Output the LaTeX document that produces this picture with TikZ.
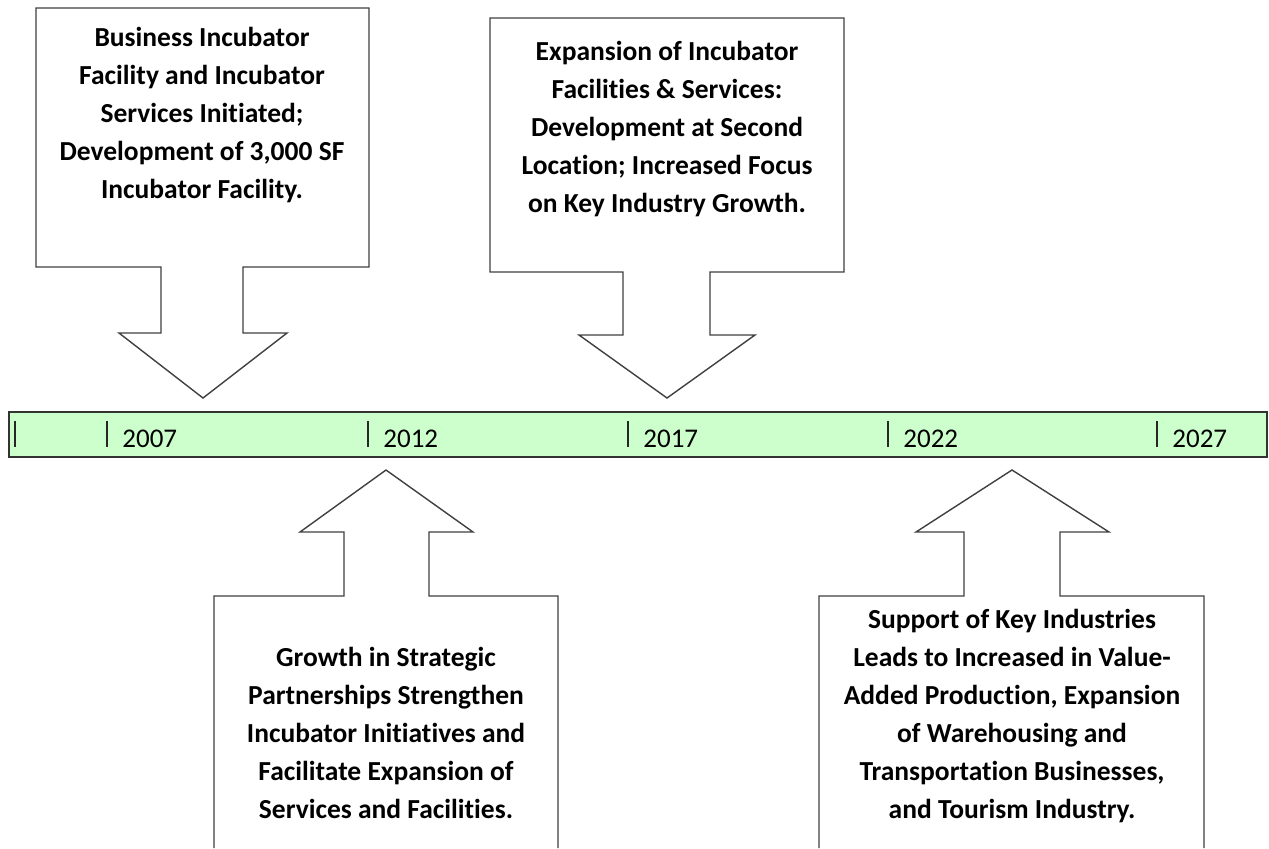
\documentclass[tikz,border=0pt]{standalone}
\usepackage{fontspec}
\setmainfont{Carlito}[Ligatures=NoCommon]
\definecolor{barfill}{HTML}{CCFFCC}
\tikzset{
  callout/.style={draw=black!75,line width=0.7pt,line join=miter},
  calltext/.style={anchor=north,align=center,inner sep=0pt,font=\fontsize{13.75}{19}\selectfont\bfseries},
  yeartick/.style={draw=black!85,line width=0.6pt},
  yearlabel/.style={anchor=base west,inner sep=0pt,font=\fontsize{13.5}{16}\selectfont}
}
\begin{document}
\begin{tikzpicture}[x=0.5pt,y=-0.5pt]
 \useasboundingbox (0,0) rectangle (1269,848);
 \fill [white] (0,0) rectangle (1269,848);
 % timeline bar
 \draw [fill=barfill,draw=black!80,line width=0.75pt] (9,412) rectangle (1267,457);
 \draw [yeartick] (15,421) -- (15,447);
 \draw [yeartick] (107,421) -- (107,447);
 \draw [yeartick] (368,421) -- (368,447);
 \draw [yeartick] (628,421) -- (628,447);
 \draw [yeartick] (888,421) -- (888,447);
 \draw [yeartick] (1157,421) -- (1157,447);
 \node [yearlabel] (y2007) at (122,447) {2007};
 \node [yearlabel] (y2012) at (383,447) {2012};
 \node [yearlabel] (y2017) at (643,447) {2017};
 \node [yearlabel] (y2022) at (903,447) {2022};
 \node [yearlabel] (y2027) at (1172,447) {2027};
 % down arrows above the bar
 \draw [callout] (36,8) -- (369,8) -- (369,267) -- (243,267) -- (243,333) -- (287,333)
   -- (203,398) -- (119,333) -- (161,333) -- (161,267) -- (36,267) -- cycle;
 \node [calltext] (start) at (202,27) {Business Incubator\\Facility and Incubator\\Services Initiated;\\Development of 3,000 SF\\Incubator Facility.};
 \draw [callout] (490,18) -- (844,18) -- (844,272) -- (710,272) -- (710,335) -- (755,335)
   -- (667,398) -- (579,335) -- (623,335) -- (623,272) -- (490,272) -- cycle;
 \node [calltext] (expand) at (667,41) {Expansion of Incubator\\Facilities \& Services:\\Development at Second\\Location; Increased Focus\\on Key Industry Growth.};
 % up arrows below the bar
 \draw [callout] (214,848) -- (214,596) -- (344,596) -- (344,532) -- (300,532) -- (386,470)
   -- (473,532) -- (429,532) -- (429,596) -- (558,596) -- (558,848);
 \node [calltext] (partner) at (386,647) {Growth in Strategic\\Partnerships Strengthen\\Incubator Initiatives and\\Facilitate Expansion of\\Services and Facilities.};
 \draw [callout] (819,848) -- (819,596) -- (964,596) -- (964,532) -- (916,532) -- (1012,470)
   -- (1109,532) -- (1060,532) -- (1060,596) -- (1204,596) -- (1204,848);
 \node [calltext] (industry) at (1012,609) {Support of Key Industries\\Leads to Increased in Value-\\Added Production, Expansion\\of Warehousing and\\Transportation Businesses,\\and Tourism Industry.};
\end{tikzpicture}
\end{document}
